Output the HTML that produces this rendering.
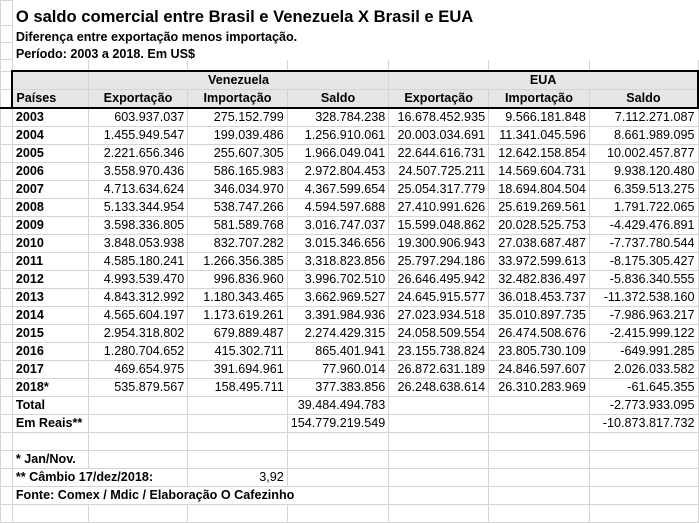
<!DOCTYPE html>
<html><head><meta charset="utf-8">
<style>
html,body{margin:0;padding:0;background:#fff;width:699px;height:509px;overflow:hidden}
table{position:absolute;left:0;top:0;border-collapse:collapse;table-layout:fixed;font-family:"Liberation Sans",sans-serif;font-size:12.6px;color:#000}
td{border:1px solid #d4d4d4;padding:0 3px;white-space:nowrap;overflow:visible;height:17px;line-height:17px}
tr.sp td{height:10px;line-height:10px}
tr.tp td{height:16px;line-height:16px}
td.n{text-align:right}
td.b{font-weight:bold}
.hd td{background:#e6e6e6;font-weight:bold}
.title{font-size:16.6px;font-weight:bold}
.title span{position:relative;top:4px}
.sub{font-weight:bold;font-size:12.6px}
.sub span{position:relative;top:3px}
</style></head><body>
<table>
<colgroup><col style="width:12px"><col style="width:76px"><col style="width:100px"><col style="width:100px"><col style="width:101px"><col style="width:100px"><col style="width:101px"><col style="width:109px"></colgroup>
<tr><td style="height:24px;line-height:24px"></td><td colspan="7" class="title" style="border-color:#fff;height:24px;line-height:24px"><span>O saldo comercial entre Brasil e Venezuela X Brasil e EUA</span></td></tr>
<tr class="tp"><td></td><td colspan="7" class="sub" style="border-color:#fff"><span>Diferença entre exportação menos importação.</span></td></tr>
<tr class="tp"><td></td><td colspan="7" class="sub" style="border-color:#fff"><span>Período: 2003 a 2018. Em US$</span></td></tr>
<tr class="sp"><td></td><td></td><td></td><td></td><td></td><td></td><td></td><td></td></tr>
<tr class="hd"><td style="background:#fff"></td><td style="border:2px solid #000;border-bottom:none;border-right:1px solid #d4d4d4"></td><td colspan="3" style="text-align:center;border-top:2px solid #000">Venezuela</td><td colspan="3" style="text-align:center;border-top:2px solid #000;border-right:2px solid #000">EUA</td></tr>
<tr class="hd" style="border-bottom:2px solid #000"><td style="background:#fff"></td><td style="border-left:2px solid #000">Países</td><td class="n" style="text-align:center">Exportação</td><td style="text-align:center">Importação</td><td style="text-align:center">Saldo</td><td style="text-align:center">Exportação</td><td style="text-align:center">Importação</td><td style="text-align:center;border-right:2px solid #000">Saldo</td></tr>
<tbody id="rows"></tbody>
</table>
<script>
var years=["2003","2004","2005","2006","2007","2008","2009","2010","2011","2012","2013","2014","2015","2016","2017","2018*"];
var venExp=["603.937.037","1.455.949.547","2.221.656.346","3.558.970.436","4.713.634.624","5.133.344.954","3.598.336.805","3.848.053.938","4.585.180.241","4.993.539.470","4.843.312.992","4.565.604.197","2.954.318.802","1.280.704.652","469.654.975","535.879.567"];
var venImp=["275.152.799","199.039.486","255.607.305","586.165.983","346.034.970","538.747.266","581.589.768","832.707.282","1.266.356.385","996.836.960","1.180.343.465","1.173.619.261","679.889.487","415.302.711","391.694.961","158.495.711"];
var venSal=["328.784.238","1.256.910.061","1.966.049.041","2.972.804.453","4.367.599.654","4.594.597.688","3.016.747.037","3.015.346.656","3.318.823.856","3.996.702.510","3.662.969.527","3.391.984.936","2.274.429.315","865.401.941","77.960.014","377.383.856"];
var euaExp=["16.678.452.935","20.003.034.691","22.644.616.731","24.507.725.211","25.054.317.779","27.410.991.626","15.599.048.862","19.300.906.943","25.797.294.186","26.646.495.942","24.645.915.577","27.023.934.518","24.058.509.554","23.155.738.824","26.872.631.189","26.248.638.614"];
var euaImp=["9.566.181.848","11.341.045.596","12.642.158.854","14.569.604.731","18.694.804.504","25.619.269.561","20.028.525.753","27.038.687.487","33.972.599.613","32.482.836.497","36.018.453.737","35.010.897.735","26.474.508.676","23.805.730.109","24.846.597.607","26.310.283.969"];
var euaSal=["7.112.271.087","8.661.989.095","10.002.457.877","9.938.120.480","6.359.513.275","1.791.722.065","-4.429.476.891","-7.737.780.544","-8.175.305.427","-5.836.340.555","-11.372.538.160","-7.986.963.217","-2.415.999.122","-649.991.285","2.026.033.582","-61.645.355"];
var tb=document.getElementById('rows');
function row(cells,name){var tr=document.createElement('tr');


tr.appendChild(document.createElement('td'));
cells.forEach(function(c,i){var td=document.createElement('td');td.textContent=c[0];td.className=c[1]||'';if(c[2])td.colSpan=c[2];


tr.appendChild(td);});tb.appendChild(tr);}
years.forEach(function(y,i){row([[y,'b'],[venExp[i],'n'],[venImp[i],'n'],[venSal[i],'n'],[euaExp[i],'n'],[euaImp[i],'n'],[euaSal[i],'n']],'row-'+y.replace('*',''));});
row([["Total",'b'],["",''],["",''],["39.484.494.783",'n'],["",''],["",''],["-2.773.933.095",'n']],'total-row');
row([["Em Reais**",'b'],["",''],["",''],["154.779.219.549",'n'],["",''],["",''],["-10.873.817.732",'n']],'reais-row');
row([["",''],["",''],["",''],["",''],["",''],["",''],["",'']],'blank-row');
row([["* Jan/Nov.",'b'],["",''],["",''],["",''],["",''],["",''],["",'']],'note-row');
row([["** Câmbio 17/dez/2018:",'b',2],["3,92",'n'],["",''],["",''],["",''],["",'']],'exchange-row');
row([["Fonte:  Comex / Mdic / Elaboração O Cafezinho",'b',4],["",''],["",''],["",'']],'source-row');
row([["",''],["",''],["",''],["",''],["",''],["",''],["",'']],'blank-row-2');
</script>
</body></html>
